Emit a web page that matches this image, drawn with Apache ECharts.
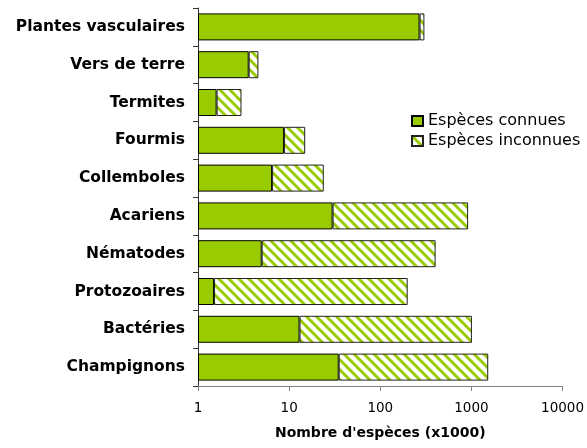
<!DOCTYPE html>
<html>
<head>
<meta charset="utf-8">
<script src="https://cdn.jsdelivr.net/npm/echarts@6/dist/echarts.min.js"></script>
<style>
  html, body { margin: 0; padding: 0; background: #fff; }
  #chart { width: 587px; height: 448px; }
</style>
</head>
<body>
<div id="chart"></div>
<script>
// données (x1000 espèces), de haut en bas
var categories = ['Plantes vasculaires', 'Vers de terre', 'Termites', 'Fourmis', 'Collemboles',
                  'Acariens', 'Nématodes', 'Protozoaires', 'Bactéries', 'Champignons'];
var connues   = [270, 3.6, 1.6, 8.8, 6.5, 30, 5, 1.5, 13, 35];
var inconnues = [35, 1.0, 1.4, 6.2, 17.5, 890, 400, 198.5, 1000, 1495];
var xTicks = [1, 10, 100, 1000, 10000];

var vert = '#99cc00';

// motif hachuré
function hachures() {
    var p = 10;
    var c = document.createElement('canvas');
    c.width = p; c.height = p;
    var ctx = c.getContext('2d');
    ctx.fillStyle = '#fff';
    ctx.fillRect(0, 0, p, p);
    ctx.strokeStyle = vert;
    ctx.lineWidth = 3;
    for (var k = -1; k <= 1; k++) {
        ctx.beginPath();
        ctx.moveTo(k * p - 1, -1);
        ctx.lineTo(k * p + p + 1, p + 1);
        ctx.stroke();
    }
    return c;
}

var myChart = echarts.init(document.getElementById('chart'));
var police = 'DejaVu Sans';

var option = {
    backgroundColor: '#fff',
    animation: false,
    textStyle: { fontFamily: police },
    grid: { left: 198, right: 23.5, top: 8, bottom: 62 },
    legend: {
        orient: 'vertical',
        left: 406,
        top: 108,
        itemWidth: 11,
        itemHeight: 10,
        itemGap: 4,
        icon: 'rect',
        textStyle: { fontFamily: police, fontSize: 16, color: '#000', lineHeight: 15 },
        data: ['Espèces connues', 'Espèces inconnues']
    },
    xAxis: {
        type: 'log',
        logBase: 10,
        min: xTicks[0],
        max: xTicks[xTicks.length - 1],
        name: "Nombre d'espèces (x1000)",
        nameLocation: 'middle',
        nameGap: 40,
        nameTextStyle: { fontFamily: police, fontSize: 14, fontWeight: 'bold', color: '#000' },
        axisLine: { show: true, lineStyle: { color: '#808080', width: 1 } },
        axisTick: { show: true, length: 5, lineStyle: { color: '#808080' } },
        minorTick: { show: false },
        splitLine: { show: false },
        axisLabel: {
            margin: 15,
            fontSize: 13.5,
            color: '#000',
            formatter: function (v) { return String(Math.round(v)); }
        }
    },
    yAxis: {
        type: 'category',
        inverse: true,
        data: categories,
        axisLine: { show: true, lineStyle: { color: '#333', width: 1 } },
        axisTick: { show: true, length: 5, alignWithLabel: false, lineStyle: { color: '#333' } },
        axisLabel: {
            margin: 13,
            fontSize: 15.5,
            fontWeight: 'bold',
            color: '#000'
        }
    },
    series: [{
        name: 'Espèces connues',
        type: 'bar',
        stack: 'total',
        barWidth: 27,
        itemStyle: {
            color: vert,
            borderColor: '#000',
            borderWidth: 1
        },
        data: connues
    }, {
        name: 'Espèces inconnues',
        type: 'bar',
        stack: 'total',
        barWidth: 27,
        itemStyle: {
            color: { image: hachures(), repeat: 'repeat' },
            borderColor: '#222',
            borderWidth: 1
        },
        data: inconnues
    }]
};
myChart.setOption(option);
</script>
</body>
</html>
